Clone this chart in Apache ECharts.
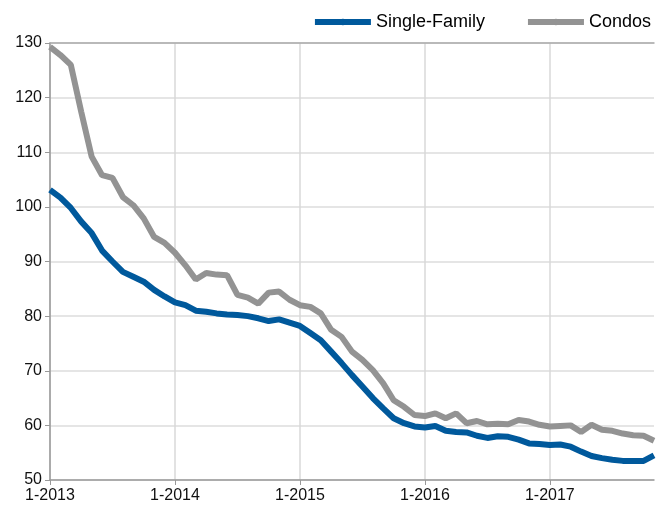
<!DOCTYPE html>
<html>
<head>
<meta charset="utf-8">
<script src="https://cdn.jsdelivr.net/npm/echarts@6/dist/echarts.min.js"></script>
<style>
  html, body { margin: 0; padding: 0; background: #fff; }
  #chart { width: 658px; height: 511px; }
</style>
</head>
<body>
<div id="chart"></div>
<script>
// 月份类目: 1-2013 ... 11-2017
const years = [2013, 2014, 2015, 2016, 2017]
const months = []
years.forEach(y => {
  for (let m = 1; m <= 12; m++) {
    if (y === 2017 && m > 11) break
    months.push(m + '-' + y)
  }
})

// 数据
const singleFamily = [
  103.1, 101.7, 99.8, 97.3, 95.2, 92.0, 90.0, 88.1, 87.2, 86.3, 84.8, 83.6,
  82.5, 82.0, 81.0, 80.8, 80.5, 80.3, 80.2, 80.0, 79.6, 79.1, 79.4, 78.8,
  78.2, 76.9, 75.6, 73.5, 71.4, 69.2, 67.1, 65.0, 63.1, 61.3, 60.4, 59.8,
  59.6, 59.9, 59.0, 58.8, 58.7, 58.1, 57.7, 58.0, 57.9, 57.4, 56.7, 56.6,
  56.4, 56.5, 56.1, 55.2, 54.4, 54.0, 53.7, 53.5, 53.5, 53.5, 54.5
]
const condos = [
  129.3, 127.8, 126.0, 117.4, 109.2, 105.8, 105.3, 101.8, 100.3, 97.9, 94.5, 93.4,
  91.6, 89.3, 86.7, 87.9, 87.6, 87.5, 83.9, 83.4, 82.3, 84.3, 84.5, 83.0,
  82.0, 81.7, 80.5, 77.5, 76.2, 73.5, 72.0, 70.1, 67.7, 64.6, 63.4, 61.9,
  61.7, 62.2, 61.3, 62.2, 60.4, 60.8, 60.2, 60.3, 60.2, 61.0, 60.7, 60.1,
  59.8, 59.9, 60.0, 58.8, 60.1, 59.2, 59.0, 58.5, 58.2, 58.1, 57.2
]

const font = 'Liberation Sans, Arial, Helvetica, sans-serif'

const chart = echarts.init(document.getElementById('chart'), null, { renderer: 'canvas' })
const option = {
  animation: false,
  textStyle: { fontFamily: font },
  legend: {
    right: 2,
    top: 8,
    itemWidth: 56,
    itemHeight: 8,
    itemGap: 40,
    textStyle: { fontSize: 18, color: '#000', fontFamily: font },
    lineStyle: { width: 6 },
    data: ['Single-Family', 'Condos']
  },
  grid: {
    left: 50,
    right: 4,
    top: 43,
    bottom: 31
  },
  xAxis: [{
    type: 'category',
    data: months,
    boundaryGap: false,
    axisLine: { lineStyle: { color: '#999', width: 1.5 } },
    axisTick: { show: true, interval: 11, length: 5, lineStyle: { color: '#999' } },
    axisLabel: { interval: 11, fontSize: 16, color: '#111', margin: 8 },
    splitLine: { show: true, interval: 11, lineStyle: { color: '#d9d9d9', width: 1.5 } }
  }, {
    type: 'category',
    position: 'top',
    data: months,
    boundaryGap: false,
    axisLine: { lineStyle: { color: '#aaa', width: 1.5 } },
    axisTick: { show: false },
    axisLabel: { show: false }
  }],
  yAxis: {
    type: 'value',
    min: 50,
    max: 130,
    interval: 10,
    axisLine: { show: true, lineStyle: { color: '#999', width: 1.5 } },
    axisTick: { show: true, length: 5, lineStyle: { color: '#999' } },
    axisLabel: { fontSize: 16, color: '#111', margin: 8 },
    splitLine: { lineStyle: { color: '#dddddd', width: 1.5 } }
  },
  series: [{
    name: 'Single-Family',
    type: 'line',
    data: singleFamily,
    symbol: 'circle',
    symbolSize: 4,
    showSymbol: false,
    lineStyle: { color: '#00599c', width: 6 },
    itemStyle: { color: '#00599c' }
  }, {
    name: 'Condos',
    type: 'line',
    data: condos,
    symbol: 'circle',
    symbolSize: 4,
    showSymbol: false,
    lineStyle: { color: '#939393', width: 6 },
    itemStyle: { color: '#939393' }
  }]
}
chart.setOption(option)
</script>
</body>
</html>
